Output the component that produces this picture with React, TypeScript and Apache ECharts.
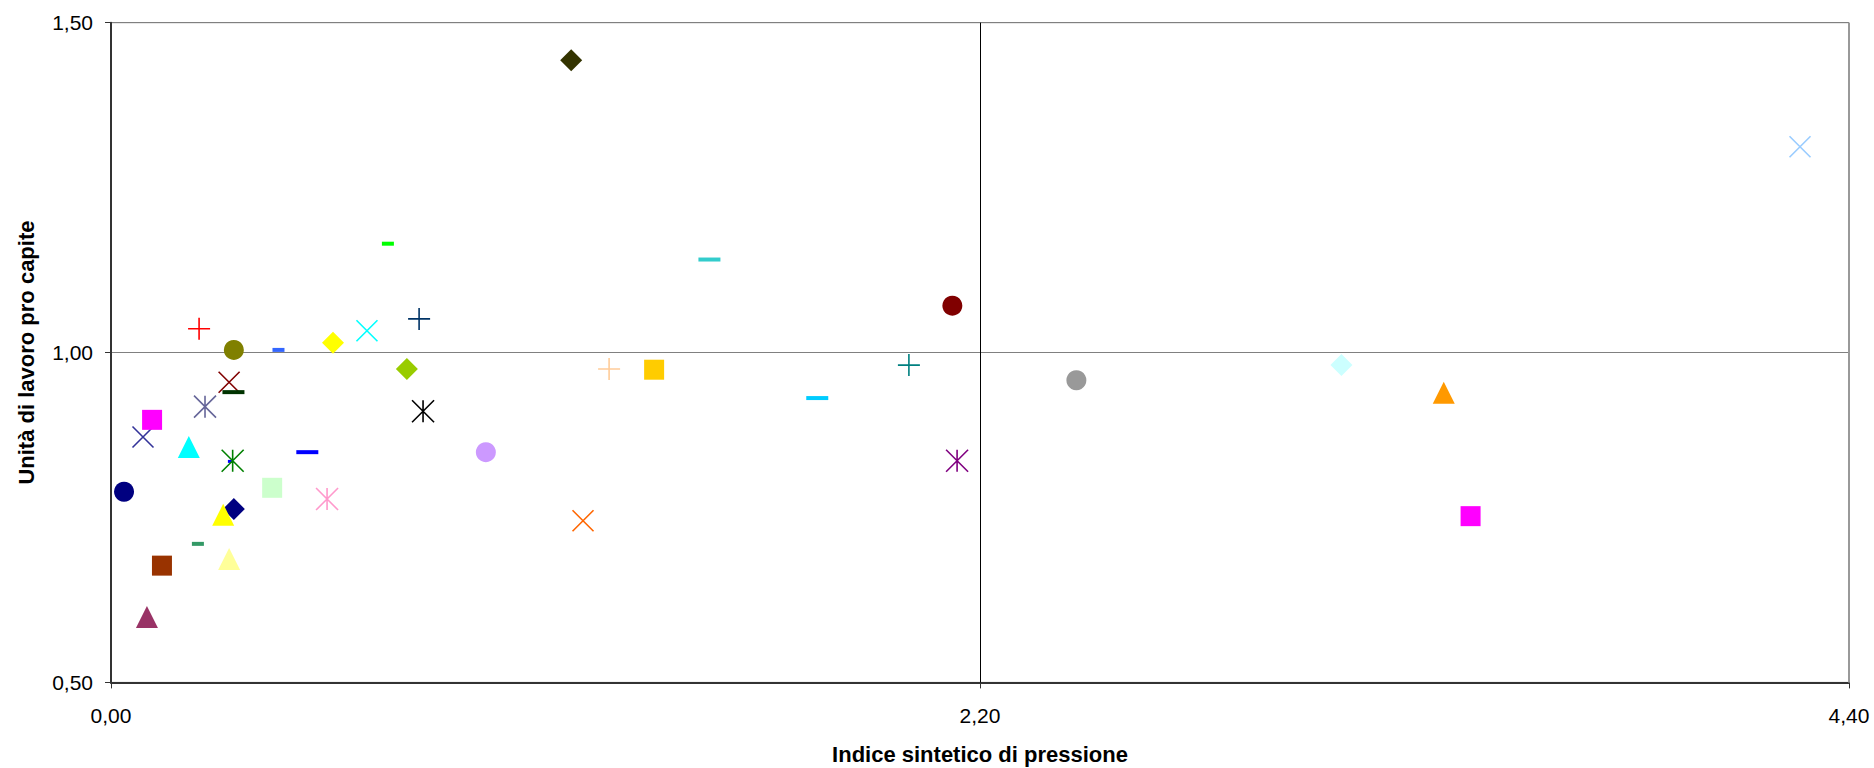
import React, { useEffect, useRef } from "react";
import * as echarts from "echarts";

// Tick values
const xTicks = [0, 2.2, 4.4];
const yTicks = [0.5, 1.0, 1.5];

// Axis titles
const xTitle = "Indice sintetico di pressione";
const yTitle = "Unità di lavoro pro capite";

// Points (one Excel series each), in drawing order
const pointX = [
  0.033, 0.081, 0.104, 0.091, 0.129, 0.197, 0.220, 0.223, 0.238, 0.299,
  0.310, 0.311, 0.301, 0.308, 0.311, 0.284, 0.299, 0.408, 0.424, 0.497,
  0.547, 0.562, 0.648, 0.701, 0.749, 0.780, 0.790, 0.949, 1.165, 1.195,
  1.261, 1.375, 1.515, 1.788, 2.020, 2.130, 2.142, 2.444, 3.115, 3.374,
  3.442, 4.276,
];
const pointY = [
  0.789, 0.872, 0.898, 0.599, 0.677, 0.857, 0.710, 1.036, 0.918, 0.955,
  0.940, 1.004, 0.835, 0.836, 0.763, 0.754, 0.687, 0.795, 1.004, 0.849,
  0.778, 1.015, 1.033, 1.165, 0.975, 1.051, 0.911, 0.849, 1.443, 0.745,
  0.975, 0.974, 1.141, 0.931, 0.981, 1.071, 0.836, 0.958, 0.981, 0.939,
  0.752, 1.312,
];
const pointColor = [
  "#000080", "#333399", "#FF00FF", "#993366", "#993300", "#00FFFF", "#339966", "#FF0000", "#666699", "#800000",
  "#003300", "#808000", "#0000FF", "#008000", "#000080", "#FFFF00", "#FFFF99", "#CCFFCC", "#3366FF", "#0000FF",
  "#FF99CC", "#FFFF00", "#00FFFF", "#00FF00", "#99CC00", "#003366", "#000000", "#CC99FF", "#333300", "#FF6600",
  "#FFCC99", "#FFCC00", "#33CCCC", "#00CCFF", "#008080", "#800000", "#800080", "#999999", "#CCFFFF", "#FF9900",
  "#FF00FF", "#99CCFF",
];
const pointShape = [
  "circle", "x", "square", "triangle", "square", "triangle", "dashSmall", "plus", "asterisk", "x",
  "dash", "circle", "dot", "asterisk", "diamond", "triangle", "triangle", "square", "dashSmall", "dash",
  "asterisk", "diamond", "x", "dashSmall", "diamond", "plus", "asterisk", "circle", "diamond", "x",
  "plus", "square", "dash", "dash", "plus", "circle", "asterisk", "circle", "diamond", "triangle",
  "square", "x",
];

const SHAPES: Record<string, { symbol: string; size: number[]; stroke: boolean }> = {
  circle: { symbol: "circle", size: [20, 20], stroke: false },
  square: { symbol: "rect", size: [20, 20], stroke: false },
  triangle: { symbol: "triangle", size: [22, 22], stroke: false },
  diamond: { symbol: "diamond", size: [22, 22], stroke: false },
  dash: { symbol: "rect", size: [22, 4], stroke: false },
  dashSmall: { symbol: "rect", size: [12, 4], stroke: false },
  dot: { symbol: "rect", size: [4, 3], stroke: false },
  x: { symbol: "path://M0,0L10,10M10,0L0,10", size: [21, 21], stroke: true },
  plus: { symbol: "path://M5,0L5,10M0,5L10,5", size: [22, 22], stroke: true },
  asterisk: { symbol: "path://M0,0L10,10M10,0L0,10M5,0L5,10", size: [22, 22], stroke: true },
};

const fmt = (v: number) => v.toFixed(2).replace(".", ",");

export default function App() {
  const ref = useRef<HTMLDivElement>(null);

  useEffect(() => {
    if (!ref.current) return;
    const chart = echarts.init(ref.current, undefined, { renderer: "svg" });

    const series: any[] = pointX.map((x, i) => {
      const s = SHAPES[pointShape[i]];
      return {
        type: "scatter",
        data: [[x, pointY[i]]],
        symbol: s.symbol,
        symbolSize: s.size,
        silent: true,
        itemStyle: s.stroke
          ? { color: "rgba(0,0,0,0)", borderColor: pointColor[i], borderWidth: 1.6, opacity: 1 }
          : { color: pointColor[i], opacity: 1 },
        emphasis: { disabled: true },
      };
    });

    series.push({
      type: "scatter",
      data: [],
      silent: true,
      markLine: {
        silent: true,
        symbol: "none",
        label: { show: false },
        data: [
          { xAxis: xTicks[1], lineStyle: { color: "#000000", width: 1, type: "solid" } },
          { xAxis: xTicks[2], lineStyle: { color: "#999999", width: 2, type: "solid" } },
        ],
      },
    });

    chart.setOption({
      animation: false,
      backgroundColor: "#ffffff",
      grid: {
        left: 111,
        right: 25,
        top: 22.7,
        bottom: 85.6,
        containLabel: false,
        outerBoundsMode: "none",
        show: true,
        borderColor: "#808080",
        borderWidth: 1,
        backgroundColor: "transparent",
      },
      xAxis: {
        type: "value",
        min: xTicks[0],
        max: xTicks[2],
        interval: xTicks[1] - xTicks[0],
        name: xTitle,
        nameLocation: "middle",
        nameGap: 61,
        nameTextStyle: {
          fontFamily: "Liberation Sans, Arial, sans-serif",
          fontSize: 22,
          fontWeight: "bold",
          color: "#000000",
        },
        axisLine: { show: true, lineStyle: { color: "#333333", width: 2 } },
        axisTick: { show: true, inside: false, length: 6, lineStyle: { color: "#333333", width: 1 } },
        axisLabel: {
          formatter: (v: number) => fmt(v),
          fontFamily: "Liberation Sans, Arial, sans-serif",
          fontSize: 21,
          color: "#000000",
          margin: 23,
        },
        splitLine: { show: false },
      },
      yAxis: {
        type: "value",
        min: yTicks[0],
        max: yTicks[2],
        interval: yTicks[1] - yTicks[0],
        name: yTitle,
        nameLocation: "middle",
        nameRotate: 90,
        nameGap: 74,
        nameTextStyle: {
          fontFamily: "Liberation Sans, Arial, sans-serif",
          fontSize: 22,
          fontWeight: "bold",
          color: "#000000",
        },
        axisLine: { show: true, lineStyle: { color: "#333333", width: 2 } },
        axisTick: { show: true, inside: false, length: 6, lineStyle: { color: "#333333", width: 1 } },
        axisLabel: {
          formatter: (v: number) => fmt(v),
          fontFamily: "Liberation Sans, Arial, sans-serif",
          fontSize: 21,
          color: "#000000",
          margin: 18,
        },
        splitLine: { show: true, lineStyle: { color: "#808080", width: 1 } },
      },
      series,
    });

    return () => chart.dispose();
  }, []);

  return (
    <div
      ref={ref}
      style={{ position: "absolute", left: 0, top: 0, width: 1874, height: 768 }}
    />
  );
}
